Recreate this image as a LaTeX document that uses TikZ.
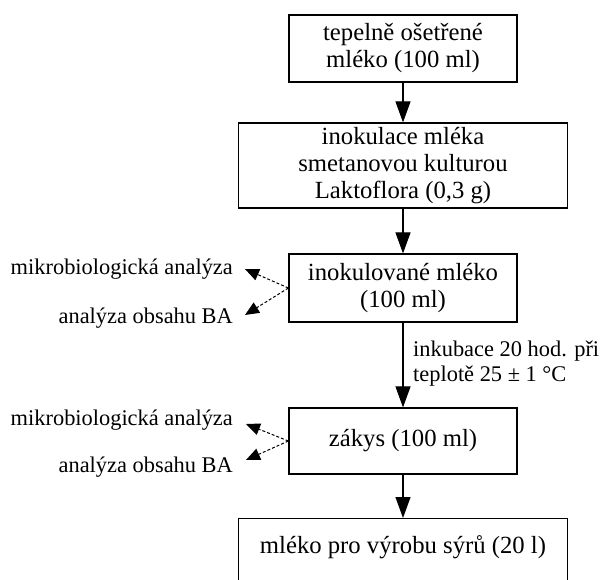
\documentclass[tikz,border=0pt]{standalone}
\usepackage{fontspec}
\setmainfont{Liberation Serif}
\usetikzlibrary{arrows.meta}
\begin{document}
\begin{tikzpicture}[x=1pt,y=1pt,
  box/.style={draw, line width=1.2pt, inner sep=0pt, align=center, font=\fontsize{24.7}{27}\selectfont},
  lbl/.style={inner sep=0pt, font=\fontsize{22.4}{25}\selectfont},
  flow/.style={line width=1.1pt, -{Triangle[length=21pt,width=15pt]}},
  side/.style={line width=1pt, dash pattern=on 3pt off 2pt, -{Triangle[length=14pt,width=12pt]}}]
\useasboundingbox (0,0) rectangle (600,-579);
\node[box, minimum width=228, minimum height=67] (b1) at (403,-48.5) {tepelně ošetřené\\mléko (100 ml)};
\node[box, minimum width=329, minimum height=85] (b2) at (403,-165.5) {inokulace mléka\\smetanovou kulturou\\Laktoflora (0,3 g)};
\node[box, minimum width=228, minimum height=68] (b3) at (403,-288) {inokulované mléko\\(100 ml)};
\node[box, minimum width=228, minimum height=66] (b4) at (403,-441) {zákys (100 ml)};
\node[box, minimum width=329, text height=35, text depth=45, anchor=north] (b5) at (403,-518) {mléko pro výrobu sýrů (20 l)};
\draw[flow] (b1.south) -- (b2.north);
\draw[flow] (b2.south) -- (b3.north);
\draw[flow] (b3.south) -- (b4.north);
\draw[flow] (b4.south) -- (b5.north);
\node[lbl, anchor=west, align=left] (inc) at (413,-364) {inkubace 20 hod. při\\teplotě 25 ± 1 °C};
\node[lbl, anchor=base east] (m1) at (233,-274) {mikrobiologická analýza};
\node[lbl, anchor=base east] (a1) at (233,-323) {analýza obsahu BA};
\node[lbl, anchor=base east] (m2) at (233,-425) {mikrobiologická analýza};
\node[lbl, anchor=base east] (a2) at (233,-472) {analýza obsahu BA};
\coordinate (t1) at (245,-269);
\coordinate (t2) at (245,-315);
\coordinate (t3) at (246,-424);
\coordinate (t4) at (246,-460);
\draw[side] (b3.west) -- (t1);
\draw[side] (b3.west) -- (t2);
\draw[side] (b4.west) -- (t3);
\draw[side] (b4.west) -- (t4);
\end{tikzpicture}
\end{document}
